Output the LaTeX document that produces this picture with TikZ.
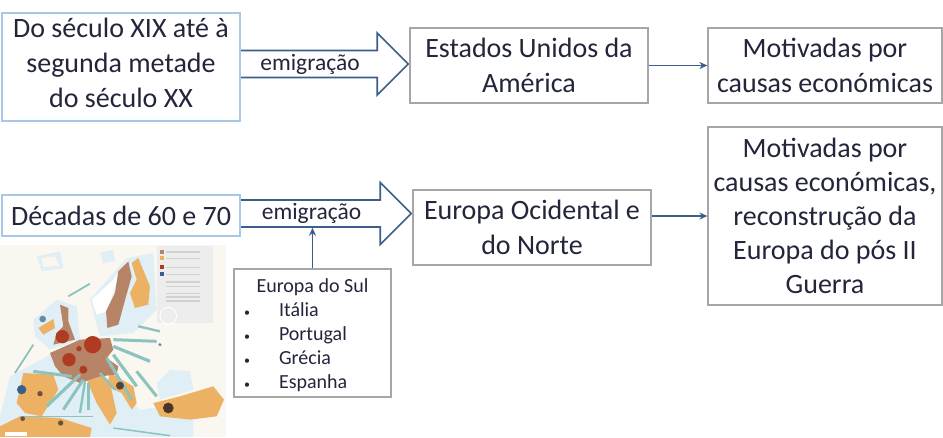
\documentclass[tikz,border=0pt]{standalone}
\usepackage{fontspec}
\setmainfont{Carlito}
\usepackage{tikz}
\usetikzlibrary{shapes.arrows, arrows.meta}
\definecolor{inktext}{HTML}{23263A}
\definecolor{bluebox}{HTML}{A9C8E6}
\definecolor{greybox}{HTML}{A6A6A6}
\definecolor{linkblue}{HTML}{3A5F8A}
\definecolor{mapbase}{HTML}{FAF7F1}
\definecolor{mapsea}{HTML}{E0EFF6}
\definecolor{mapland}{HTML}{EDB163}
\definecolor{mapbrown}{HTML}{B78468}
\definecolor{mapred}{HTML}{AE3B22}
\definecolor{mapflow}{HTML}{8CC3BE}
\newcommand{\dotitem}{\makebox[33pt][l]{\hspace{-2pt}\fontsize{12}{12}\selectfont\textbullet}}
\tikzstyle{period} = [rectangle, draw=bluebox, line width=1.4pt, fill=white, text=inktext, align=center, font=\fontsize{28}{35}\selectfont]
\tikzstyle{module} = [rectangle, draw=greybox, line width=1.2pt, fill=white, text=inktext, align=center, font=\fontsize{28}{35}\selectfont]
\tikzstyle{flow} = [single arrow, draw=linkblue, line width=1.6pt, fill=white, text=inktext, inner sep=1pt, minimum width=62pt, single arrow head extend=15.5pt, font=\fontsize{23.5}{24}\selectfont]
\tikzstyle{link} = [-{Stealth[length=8pt,width=7pt]}, draw=linkblue, line width=1.9pt]

\begin{document}
\begin{tikzpicture}[x=1pt, y=-1pt]
    \useasboundingbox (0,0) rectangle (943,437);

    % map
    \begin{scope}[shift={(0,243)}, x=0.3333pt, y=-0.3333pt]
        \fill[mapbase] (0,5) rectangle (678,582);
        % coasts and seas
        \fill[mapsea] (110,40) -- (180,25) -- (190,75) -- (125,85) -- cycle;
        \fill[mapsea] (300,30) -- (340,20) -- (345,55) -- (310,60) -- cycle;
        \fill[mapsea] (270,170) -- (380,45) -- (460,30) -- (470,200) -- (400,270) -- (300,280) -- cycle;
        \fill[mapsea] (100,230) -- (170,170) -- (230,190) -- (240,290) -- (150,320) -- (105,280) -- cycle;
        \fill[mapsea] (30,400) -- (160,330) -- (260,430) -- (340,410) -- (420,500) -- (580,480) -- (580,582) -- (0,582) -- (0,520) -- cycle;
        \fill[mapsea] (470,420) -- (510,380) -- (570,385) -- (580,440) -- (480,470) -- cycle;
        \fill[white] (275,170) -- (340,110) -- (385,50) -- (350,120) -- (320,205) -- (290,215) -- cycle;
        \fill[mapbase] (125,45) -- (165,40) -- (178,68) -- (130,72) -- cycle;
        % legend
        \fill[black!7] (470,10) rectangle (640,240);
        \fill[mapbrown] (480,20) rectangle (492,32);
        \fill[mapland] (480,40) rectangle (492,52);
        \fill[mapred] (480,67) rectangle (492,79);
        \fill[linkblue] (480,87) rectangle (492,99);
        \foreach \y in {25,45,72,92,115,128,150,160,172}
            \fill[black!18] (497,\y) rectangle (600,\y+4);
        \draw[white, line width=0.8pt] (505,218) circle (25);
        % land
        \fill[mapbrown] (322,255) -- (318,205) -- (345,150) -- (355,85) -- (385,55) -- (395,100) -- (370,190) -- (355,245) -- cycle;
        \fill[mapland] (395,60) -- (415,45) -- (450,130) -- (445,185) -- (405,195) -- (390,150) -- (410,110) -- cycle;
        \fill[mapbrown] (180,185) -- (205,195) -- (205,235) -- (225,290) -- (160,305) -- (170,270) -- (190,250) -- cycle;
        \fill[mapland] (115,255) -- (160,228) -- (165,255) -- (130,275) -- cycle;
        \fill[mapland] (70,390) -- (160,395) -- (175,440) -- (125,520) -- (75,510) -- (50,480) -- cycle;
        \fill[mapland] (330,390) -- (400,430) -- (410,480) -- (395,500) -- (365,450) -- (320,430) -- cycle;
        \fill[mapland] (260,410) -- (300,395) -- (330,420) -- (350,510) -- (330,545) -- (290,480) -- cycle;
        \fill[mapland] (460,480) -- (540,460) -- (640,430) -- (672,470) -- (650,520) -- (570,530) -- (480,520) -- cycle;
        \fill[mapland] (0,550) -- (60,520) -- (180,525) -- (275,555) -- (270,582) -- (0,582) -- cycle;
        \fill[mapbrown] (150,330) -- (240,290) -- (330,285) -- (340,320) -- (320,345) -- (355,370) -- (350,395) -- (300,400) -- (240,420) -- (190,400) -- (165,370) -- cycle;
        % migration flows
        \foreach \a/\b/\c/\d/\w in {340/290/470/295/3, 340/310/450/355/3.2, 340/335/410/430/3.2, 320/345/395/470/3, 410/385/470/460/3, 240/395/140/490/3.2, 215/400/100/385/3, 250/410/190/500/3, 255/415/240/510/2.4, 265/420/265/500/2.4, 300/390/345/440/2.4, 415/250/480/265/2.4, 45/390/100/305/1.8, 205/160/270/122/1.8, 60/520/280/520/1, 340/555/510/578/1.5}
            \draw[mapflow, line width=\w pt] (\a,\b) -- (\c,\d);
        % circles
        \fill[mapred] (187,281) circle (20);
        \fill[mapred] (207,350) circle (20);
        \fill[mapred] (278,305) circle (26);
        \fill[mapred] (250,380) circle (12);
        \fill[mapred] (237,317) circle (8);
        \fill[black!60!mapbrown] (505,495) circle (16);
        \fill[black!50!mapbrown] (360,428) circle (12);
        \fill[black!40!mapbrown] (120,452) circle (8);
        \fill[black!40!mapbrown] (182,540) circle (8);
        \fill[black!40!mapbrown] (68,527) circle (7);
        \fill[linkblue] (65,440) circle (14);
        \fill[linkblue!75] (128,228) circle (10);
        \fill[linkblue!75] (480,305) circle (5);
        \fill[white] (15,567) rectangle (80,578);
    \end{scope}

    % arrows
    \node[flow, minimum height=183pt] (flowone) at (310,64) {emigração};
    \node[flow, minimum height=186pt] (flowtwo) at (311.5,213.5) {emigração};

    % boxes
    \node[period, minimum width=238pt, minimum height=108pt] (secxix) at (121,67) {Do século XIX até à\\segunda metade\\do século XX\rule[-8pt]{0pt}{1pt}};
    \node[module, minimum width=238pt, minimum height=75pt] (eua) at (529,65.5) {Estados Unidos da\\América};
    \node[module, minimum width=234pt, minimum height=75pt] (causas) at (825,65.5) {Motivadas por\\causas económicas};

    \node[period, minimum width=238pt, minimum height=41pt] (decadas) at (121,215.5) {Décadas de 60 e 70};
    \node[module, minimum width=238pt, minimum height=75pt] (ocidental) at (532,227.5) {Europa Ocidental e\\do Norte};
    \node[module, minimum width=234pt, minimum height=178pt, font=\fontsize{28}{34}\selectfont] (reconstrucao) at (825,216) {Motivadas por\\causas económicas,\\reconstrução da\\Europa do pós II\\Guerra};

    \node[module, minimum width=157pt, minimum height=128pt, align=left, font=\fontsize{20}{24}\selectfont] (sul) at (312.5,333) {\rule{0pt}{19pt}\makebox[133pt][c]{Europa do Sul}\\\dotitem Itália\\\dotitem Portugal\\\dotitem Grécia\\\dotitem Espanha};

    % links
    \draw [link] (eua) -- (causas);
    \draw [link] ([yshift=11.5pt]ocidental.east) -- (reconstrucao.west);
    \draw [link] (sul.north) -- (sul.north |- flowtwo.south);
\end{tikzpicture}
\end{document}
